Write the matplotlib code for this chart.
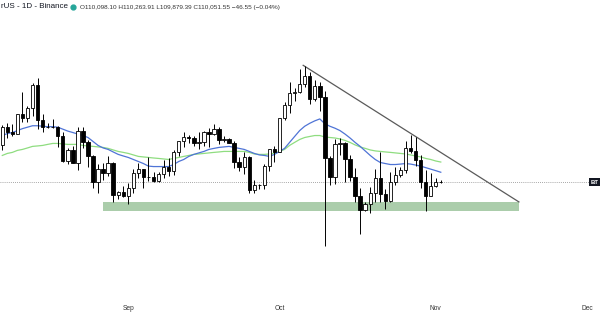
import numpy as np
import pandas as pd
import matplotlib
matplotlib.use('Agg')
import matplotlib.pyplot as plt
import matplotlib.transforms as mtransforms

plt.rcParams['font.family'] = ['Liberation Sans', 'DejaVu Sans']

# BTC/USDT 일봉, 2025-08-07 ~ 2025-11-02
start = pd.Timestamp('2025-08-07')

opens = [114990, 117490, 116680, 116480, 119300, 118690, 120140, 123340, 118360, 117400,
         117490, 117450, 116250, 112870, 114270, 112500, 116940, 115370, 113490, 110110,
         111780, 111260, 112560, 108380, 108820, 108250, 109250, 111240, 111700, 110720,
         110660, 110190, 111140, 112060, 111530, 113960, 115500, 116100, 115950, 115270,
         115350, 116790, 116470, 117140, 115690, 115720, 115300, 112700, 112000, 113300,
         109050, 109640, 109700, 112160, 114400, 114050, 118650, 120550, 122230, 122390,
         123510, 124750, 121450, 123300, 121700, 113200, 110650, 115170, 115270, 113120,
         110770, 108190, 106430, 107180, 108650, 110590, 108480, 107570, 110080, 111030,
         111650, 114580, 114120, 112940, 110050, 108300, 109600, 110098]
highs = [117700, 117940, 117900, 119310, 122330, 120320, 123670, 124470, 119220, 117940,
         118580, 117640, 116800, 114620, 114800, 117440, 117430, 115660, 113650, 112380,
         112600, 113500, 112650, 108950, 109480, 109900, 111780, 112600, 111800, 113380,
         111300, 111300, 112900, 113280, 114300, 115550, 116780, 116330, 116140, 116780,
         116900, 117290, 117900, 117450, 116140, 115860, 115450, 113300, 113990, 113500,
         110300, 109850, 112380, 114460, 114840, 118650, 121000, 123900, 122900, 125700,
         126200, 125250, 124200, 123800, 122550, 113450, 115770, 115970, 115400, 113600,
         111950, 109250, 107500, 109450, 111700, 114000, 109150, 111300, 112000, 111970,
         115450, 116400, 116100, 113650, 111600, 111200, 110580, 110264]
lows = [114260, 115900, 116260, 116460, 118100, 118200, 118920, 117180, 116800, 117250,
        117270, 114700, 112740, 112380, 112580, 111680, 114520, 112000, 109330, 108660,
        110350, 110900, 107460, 107900, 108080, 107270, 108620, 110530, 109330, 110220,
        110000, 110120, 110600, 110800, 110920, 113430, 114760, 115250, 114900, 114400,
        114800, 114720, 116400, 115100, 115420, 115180, 111900, 111480, 111100, 108620,
        108700, 109100, 109200, 111560, 112660, 113970, 118380, 119350, 121150, 122200,
        123100, 120600, 121070, 119650, 102000, 109700, 109750, 113600, 110020, 110200,
        107500, 103530, 106330, 106100, 107450, 107500, 106600, 107480, 109660, 110660,
        111260, 113900, 112220, 109270, 106300, 108200, 109390, 109879]
closes = [117490, 116680, 116480, 119300, 118690, 120140, 123340, 118360, 117400, 117490,
          117450, 116250, 112870, 114270, 112500, 116940, 115370, 113490, 110110, 111780,
          111260, 112560, 108380, 108820, 108250, 109250, 111240, 111700, 110720, 110660,
          110190, 111140, 112060, 111530, 113960, 115500, 116100, 115950, 115270, 115350,
          116790, 116470, 117140, 115690, 115720, 115300, 112700, 112000, 113300, 109050,
          109640, 109700, 112160, 114400, 114050, 118650, 120550, 122230, 122390, 123510,
          124750, 121450, 123300, 121700, 113200, 110650, 115170, 115270, 113120, 110770,
          108190, 106430, 107180, 108650, 110590, 108480, 107570, 110080, 111030, 111650,
          114580, 114120, 112940, 110050, 108300, 109600, 110098, 110051.55]

# 이동평균선
ma_fast = [116260, 116530, 116670, 116940, 117210, 117410, 117610, 117610, 117540, 117480,
           117480, 117410, 117140, 116870, 116670, 116460, 116260, 115990, 115450, 114910,
           114570, 114370, 114030, 113700, 113490, 113290, 113020, 112750, 112480, 112140,
           112080, 112080, 112080, 112080, 112350, 112750, 113020, 113430, 113700, 113900,
           114100, 114370, 114510, 114640, 114710, 114780, 114640, 114510, 114370, 114100,
           113830, 113630, 113560, 113430, 113700, 114100, 114510, 115320, 116130, 116940,
           117540, 117950, 118290, 118560, 117880, 117540, 117270, 116940, 116460, 115920,
           115320, 114780, 114170, 113560, 113020, 112620, 112480, 112350, 112350, 112410,
           112480, 112410, 112280, 112140, 111940, 111740, 111540, 111330]
ma_slow = [113560, 113830, 113970, 114240, 114370, 114570, 114780, 114840, 114910, 115050,
           115180, 115180, 115110, 115050, 115050, 115050, 114910, 114840, 114780, 114710,
           114640, 114510, 114300, 114100, 113970, 113830, 113630, 113430, 113360, 113290,
           113220, 113160, 113090, 113020, 113160, 113290, 113430, 113560, 113700, 113760,
           113830, 113900, 113970, 114030, 114100, 114100, 114100, 114100, 114100, 113970,
           113760, 113700, 113700, 113760, 113830, 114100, 114370, 114910, 115320, 115720,
           115990, 116130, 116260, 116260, 116060, 115990, 115920, 115790, 115590, 115320,
           114980, 114710, 114510, 114300, 114170, 114100, 114030, 113970, 113900, 113830,
           113760, 113630, 113490, 113360, 113160, 113020, 112820, 112680]

# 지지 구간, 추세선
zone_days = [20, 102.5]
zone_low, zone_high = 106350, 107480
trend_days = [59.7, 102.5]
trend_prices = [126300, 107500]

last_price = 110051.55
month_labels = ['Sep', 'Oct', 'Nov', 'Dec']
month_dates = ['2025-09-01', '2025-10-01', '2025-11-01', '2025-12-01']

fig = plt.figure(figsize=(6, 3.15), dpi=100)
ax = fig.add_axes([0, 0, 1, 1])
ax.set_yscale('log')
ax.set_xlim(-0.456, 118.59)
ax.set_ylim(94073, 136420)
ax.axis('off')

x = np.arange(len(closes))
o = np.array(opens, dtype=float)
h = np.array(highs, dtype=float)
l = np.array(lows, dtype=float)
c = np.array(closes, dtype=float)
up = c >= o

ax.fill_between(zone_days, zone_low, zone_high, color='#abcdab', lw=0, zorder=1)
ax.plot(trend_days, trend_prices, color='#5a5a5a', lw=0.9, zorder=2)
ax.plot(x, ma_slow, color='#8fdd80', lw=0.9, zorder=2)
ax.plot(x, ma_fast, color='#4f74d6', lw=0.9, zorder=2)

ax.vlines(x, l, h, color='black', lw=0.7, zorder=3)
ax.bar(x[up], (c - o)[up], bottom=o[up], width=0.68, facecolor='white',
       edgecolor='black', lw=0.6, zorder=4)
ax.bar(x[~up], (o - c)[~up], bottom=c[~up], width=0.68, facecolor='black',
       edgecolor='black', lw=0.6, zorder=4)

# 현재가 점선 + 라벨 (오른쪽 끝에 잘린 심볼 라벨)
ax.axhline(last_price, xmin=0, xmax=589 / 600, color='#8a8a8a', lw=0.6,
           ls=(0, (1, 1.5)), zorder=1)
trans_y = mtransforms.blended_transform_factory(ax.transAxes, ax.transData)
ax.text(598.5 / 600, last_price, 'BT', transform=trans_y, fontsize=4.3,
        color='white', va='center', ha='right', fontweight='bold',
        bbox=dict(boxstyle='square,pad=0.3', fc='#131722', ec='none'))

# 월 라벨
trans_x = mtransforms.blended_transform_factory(ax.transData, ax.transAxes)
for lab, d in zip(month_labels, month_dates):
    day = (pd.Timestamp(d) - start).days
    ax.text(day, 1 - 308 / 315, lab, transform=trans_x, fontsize=4.8,
            color='#333333', ha='center', va='center')

# 상단 제목
ty = 1 - 7 / 315
fig.text(1 / 600, ty, 'rUS - 1D - Binance', fontsize=5.8, color='#131722', va='center')
ax.plot([73 / 600], [ty], 'o', ms=3.5, color='#26a69a', transform=fig.transFigure,
        clip_on=False)
fig.text(80 / 600, ty, 'O110,098.10 H110,263.91 L109,879.39 C110,051.55 \u221246.55 (\u22120.04%)',
         fontsize=4.6, color='#333333', va='center')

fig.savefig('out.png', dpi=100)
